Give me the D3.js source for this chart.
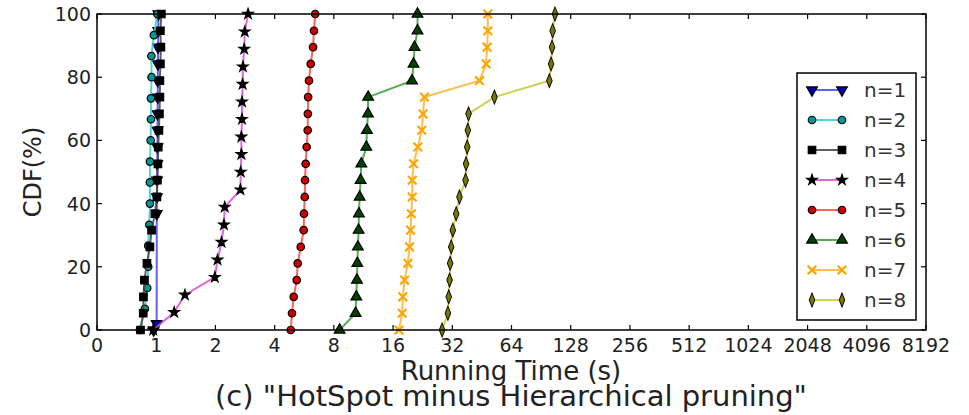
<!DOCTYPE html>
<html>
<head>
<meta charset="utf-8">
<script src="https://cdn.jsdelivr.net/npm/d3@7"></script>
<style>
  body { margin: 0; background: #fff; }
  svg { font-family: "DejaVu Sans", sans-serif; }
</style>
</head>
<body>
<div id="chart"></div>
<script>
// CDF levels (%) for each run count
var cdf20 = [0, 5.3, 10.5, 15.8, 21.1, 26.3, 31.6, 36.8, 42.1, 47.4, 52.6, 57.9, 63.2, 68.4, 73.7, 78.9, 84.2, 89.5, 94.7, 100];
var cdf19 = [0, 5.6, 11.1, 16.7, 22.2, 27.8, 33.3, 38.9, 44.4, 50, 55.6, 61.1, 66.7, 72.2, 77.8, 83.3, 88.9, 94.4, 100];
var cdf16 = [0, 6.7, 13.3, 20, 26.7, 33.3, 40, 46.7, 53.3, 60, 66.7, 73.3, 80, 86.7, 93.3, 100];
var cdf1 = [0, 2, 36.8, 42.1, 47.4, 52.6, 57.9, 63.2, 68.4, 73.7, 78.9, 84.2, 89.5, 94.7, 100];

// running times (s)
var time1 = [0.97, 1.005, 1.007, 1.008, 1.01, 1.012, 1.014, 1.015, 1.016, 1.018, 1.019, 1.02, 1.022, 1.024, 1.026];
var time2 = [0.826, 0.876, 0.900, 0.911, 0.911, 0.922, 0.929, 0.929, 0.929, 0.937, 0.940, 0.940, 0.947, 0.945, 0.973, 1.014];
var time3 = [0.832, 0.859, 0.861, 0.871, 0.897, 0.929, 0.947, 0.985, 1.008, 1.014, 1.020, 1.024, 1.032, 1.038, 1.044, 1.044, 1.050, 1.056, 1.050, 1.062];
var time4 = [0.965, 1.234, 1.40, 1.986, 2.05, 2.148, 2.21, 2.23, 2.68, 2.69, 2.71, 2.71, 2.73, 2.73, 2.75, 2.76, 2.80, 2.82, 2.93];
var time5 = [4.83, 4.90, 5.00, 5.18, 5.24, 5.43, 5.62, 5.64, 5.69, 5.71, 5.75, 5.82, 5.89, 5.90, 5.92, 5.98, 6.10, 6.27, 6.34, 6.43];
var time6 = [8.56, 10.32, 10.40, 10.48, 10.53, 10.60, 10.69, 10.73, 10.82, 10.94, 11.03, 11.70, 11.78, 11.92, 11.95, 19.97, 20.33, 20.57, 21.3, 21.3];
var time7 = [17.16, 17.81, 17.93, 18.30, 19.03, 19.40, 19.63, 19.80, 20.03, 20.03, 20.33, 21.38, 22.4, 22.7, 23.1, 44.0, 47.6, 48.1, 48.5, 48.5];
var time8 = [28.4, 30.4, 30.7, 31.0, 31.2, 31.6, 32.2, 33.5, 34.8, 37.4, 37.6, 38.1, 38.4, 38.7, 52.4, 99.7, 101.7, 102.9, 103.6, 106.5];

var seriesNames = ["n=1", "n=2", "n=3", "n=4", "n=5", "n=6", "n=7", "n=8"];
var xTicks = [0.5, 1, 2, 4, 8, 16, 32, 64, 128, 256, 512, 1024, 2048, 4096, 8192];
var xTickLabels = ["0", "1", "2", "4", "8", "16", "32", "64", "128", "256", "512", "1024", "2048", "4096", "8192"];
var yTicks = [0, 20, 40, 60, 80, 100];

var series = [
  { name: seriesNames[0], x: time1, y: cdf1,  line: "#4444ff", fill: "#0000aa", marker: "tridown" },
  { name: seriesNames[1], x: time2, y: cdf16, line: "#33cccc", fill: "#009999", marker: "circle" },
  { name: seriesNames[2], x: time3, y: cdf20, line: "#444444", fill: "#000000", marker: "square" },
  { name: seriesNames[3], x: time4, y: cdf19, line: "#d84bd8", fill: "#000000", marker: "star" },
  { name: seriesNames[4], x: time5, y: cdf20, line: "#ff4444", fill: "#cc0000", marker: "circle" },
  { name: seriesNames[5], x: time6, y: cdf20, line: "#3a9f3a", fill: "#004400", marker: "triup" },
  { name: seriesNames[6], x: time7, y: cdf20, line: "#ffb030", fill: "#ffa500", marker: "x" },
  { name: seriesNames[7], x: time8, y: cdf20, line: "#c8c830", fill: "#777700", marker: "diamond" }
];

var width = 969, height = 415;
var margin = { left: 97, right: 43, top: 14, bottom: 85 };

var svg = d3.select("#chart").append("svg")
  .attr("width", width)
  .attr("height", height);

var xScale = d3.scaleLog().base(2)
  .domain([0.5, 8192])
  .range([margin.left, width - margin.right]);
var yScale = d3.scaleLinear()
  .domain([0, 100])
  .range([height - margin.bottom, margin.top]);

var x0 = xScale.range()[0], x1 = xScale.range()[1];
var y0 = yScale.range()[0], y1 = yScale.range()[1];

// ticks, inward on all four sides
var tickLen = 5;
var tickG = svg.append("g").attr("stroke", "#000").attr("stroke-width", 1.2);
xTicks.forEach(function(t) {
  var px = xScale(t);
  tickG.append("line").attr("x1", px).attr("x2", px).attr("y1", y0).attr("y2", y0 - tickLen);
  tickG.append("line").attr("x1", px).attr("x2", px).attr("y1", y1).attr("y2", y1 + tickLen);
});
yTicks.forEach(function(t) {
  var py = yScale(t);
  tickG.append("line").attr("x1", x0).attr("x2", x0 + tickLen).attr("y1", py).attr("y2", py);
  tickG.append("line").attr("x1", x1).attr("x2", x1 - tickLen).attr("y1", py).attr("y2", py);
});

// tick labels
svg.append("g").selectAll("text")
  .data(xTicks).enter()
  .append("text")
  .attr("x", function(d) { return xScale(d); })
  .attr("y", y0 + 22)
  .attr("text-anchor", "middle")
  .attr("font-size", 19)
  .attr("fill", "#222")
  .text(function(d, i) { return xTickLabels[i]; });

svg.append("g").selectAll("text")
  .data(yTicks).enter()
  .append("text")
  .attr("x", x0 - 6)
  .attr("y", function(d) { return yScale(d) + 7; })
  .attr("text-anchor", "end")
  .attr("font-size", 19)
  .attr("fill", "#222")
  .text(function(d) { return d; });

// markers
function markerPath(kind) {
  var s;
  if (kind == "circle") s = d3.symbol().type(d3.symbolCircle).size(44);
  else if (kind == "square") s = d3.symbol().type(d3.symbolSquare).size(56);
  else if (kind == "star") s = d3.symbol().type(d3.symbolStar).size(34);
  else if (kind == "triup" || kind == "tridown") s = d3.symbol().type(d3.symbolTriangle).size(50);
  else if (kind == "x") s = d3.symbol().type(d3.symbolX).size(50);
  else s = d3.symbol().type(d3.symbolDiamond).size(56);
  return s();
}

function drawMarker(g, d, px, py) {
  var m = g.append("path")
    .attr("d", markerPath(d.marker));
  var tr = "translate(" + px + "," + py + ")";
  if (d.marker == "tridown") tr += "rotate(180)";
  if (d.marker == "diamond") tr += "scale(0.7,1)";
  m.attr("transform", tr);
  if (d.marker == "x") {
    m.attr("fill", "none").attr("stroke", d.fill).attr("stroke-width", 2.2);
  } else {
    m.attr("fill", d.fill).attr("stroke", "#000").attr("stroke-width", 1.2);
  }
}

var line = d3.line()
  .x(function(p) { return xScale(p[0]); })
  .y(function(p) { return yScale(p[1]); });

var plotG = svg.append("g");
series.forEach(function(d) {
  var pts = d.x.map(function(v, i) { return [v, d.y[i]]; });
  var g = plotG.append("g");
  g.append("path")
    .attr("d", line(pts))
    .attr("fill", "none")
    .attr("stroke", d.line)
    .attr("stroke-opacity", 0.85)
    .attr("stroke-width", 2);
  pts.forEach(function(p) {
    drawMarker(g, d, xScale(p[0]), yScale(p[1]));
  });
});

// frame
svg.append("rect")
  .attr("x", x0).attr("y", y1)
  .attr("width", x1 - x0).attr("height", y0 - y1)
  .attr("fill", "none").attr("stroke", "#000").attr("stroke-width", 1.5);

// legend
var legend = svg.append("g");
legend.append("rect")
  .attr("x", 797).attr("y", 73)
  .attr("width", 119).attr("height", 247)
  .attr("fill", "#fff").attr("stroke", "#000").attr("stroke-width", 1.5);
series.forEach(function(d, i) {
  var ly = 90 + i * 30;
  legend.append("line")
    .attr("x1", 812).attr("x2", 842).attr("y1", ly).attr("y2", ly)
    .attr("stroke", d.line).attr("stroke-opacity", 0.85).attr("stroke-width", 2);
  drawMarker(legend, d, 812, ly);
  drawMarker(legend, d, 842, ly);
  legend.append("text")
    .attr("x", 864).attr("y", ly + 7)
    .attr("font-size", 20)
    .attr("fill", "#333")
    .text(d.name);
});

// axis titles
svg.append("text")
  .attr("transform", "translate(41," + ((y0 + y1) / 2) + ")rotate(-90)")
  .attr("text-anchor", "middle")
  .attr("font-size", 24)
  .attr("fill", "#222")
  .text("CDF(%)");

svg.append("text")
  .attr("x", 511).attr("y", 380)
  .attr("text-anchor", "middle")
  .attr("font-size", 26)
  .attr("fill", "#222")
  .text("Running Time (s)");

svg.append("text")
  .attr("x", 511).attr("y", 406)
  .attr("text-anchor", "middle")
  .attr("font-size", 29)
  .attr("fill", "#222")
  .text("(c) \"HotSpot minus Hierarchical pruning\"");
</script>
</body>
</html>
